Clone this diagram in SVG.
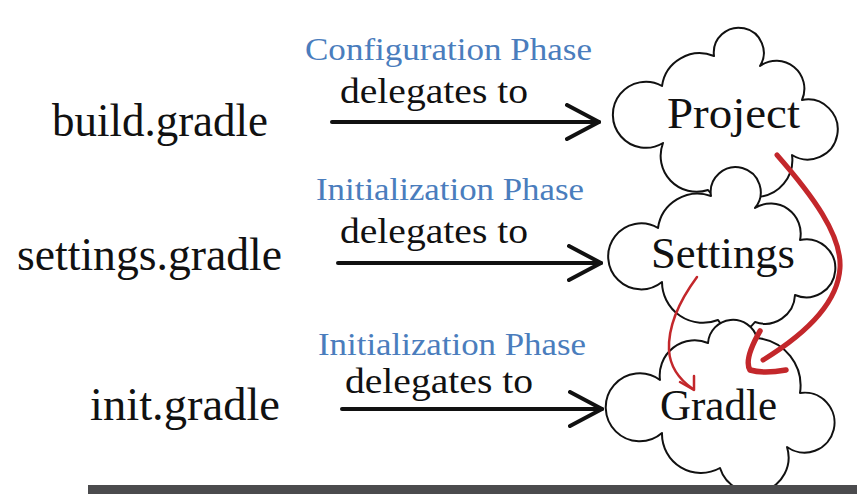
<svg xmlns="http://www.w3.org/2000/svg" width="857" height="494" viewBox="0 0 857 494">
<style>
text{font-family:"Liberation Serif","DejaVu Serif",serif;}
.file{font-size:46px;fill:#111;}
.phase{font-size:32px;fill:#4a7dbd;}
.del{font-size:35px;fill:#111;}
.name{font-size:44px;fill:#111;}
.cloud{fill:#fff;stroke:#111;stroke-width:2;stroke-linejoin:round;}
.arr{stroke:#111;stroke-width:4;fill:none;stroke-linecap:round;}
.red{stroke:#c3272b;fill:none;stroke-linecap:round;stroke-linejoin:round;}
</style>
<defs>
<marker id="chev" viewBox="0 0 36 38" refX="34" refY="19" markerWidth="36" markerHeight="38" markerUnits="userSpaceOnUse" orient="auto">
<path d="M2,2 L34,19 L2,36" fill="none" stroke="#111" stroke-width="4" stroke-linecap="round" stroke-linejoin="round"/>
</marker>
</defs>
<rect width="857" height="494" fill="#fff"/>

<g id="build-gradle"><text class="file" x="52" y="136" textLength="216" lengthAdjust="spacingAndGlyphs">build.gradle</text></g>
<g id="settings-gradle"><text class="file" x="17" y="270" textLength="265" lengthAdjust="spacingAndGlyphs">settings.gradle</text></g>
<g id="init-gradle"><text class="file" x="90" y="420" textLength="190" lengthAdjust="spacingAndGlyphs">init.gradle</text></g>

<g id="project">
<path class="cloud" d="M663,143 A33,33 0 1,1 662,86 A38,38 0 0,1 714,56 A25,25 0 1,1 760,66 A28,28 0 0,1 802,100 A30,30 0 1,1 792,155 A37,37 0 0,1 757,197 A34,34 0 0,1 708,190 A36,36 0 0,1 663,143 Z"/>
<text class="name" x="667" y="128" textLength="133" lengthAdjust="spacingAndGlyphs">Project</text>
</g>
<g id="settings">
<path class="cloud" d="M662,282 A33,33 0 1,1 658,228 A40,40 0 0,1 711,196 A25,25 0 1,1 755,208 A30,30 0 0,1 800,240 A29,29 0 1,1 795,295 A30,30 0 0,1 755,322 A22,22 0 0,1 718,320 A41,41 0 0,1 662,282 Z"/>
<text class="name" x="651" y="268" textLength="144" lengthAdjust="spacingAndGlyphs">Settings</text>
</g>
<g id="gradle">
<path class="cloud" d="M662,433 A34,34 0 1,1 660,380 A35,35 0 0,1 708,343 A25,25 0 0,1 757,338 A48,48 0 0,1 800,393 A30,30 0 1,1 787,447 A35,35 0 0,1 720,468 A39,39 0 0,1 662,433 Z"/>
<text class="name" x="660" y="420" textLength="117" lengthAdjust="spacingAndGlyphs">Gradle</text>
</g>

<g id="connectors">
<text class="phase" x="305" y="60" textLength="287" lengthAdjust="spacingAndGlyphs">Configuration Phase</text>
<text class="del" x="340" y="103" textLength="188" lengthAdjust="spacingAndGlyphs">delegates to</text>
<line class="arr" x1="332" y1="122" x2="599" y2="122" marker-end="url(#chev)"/>

<text class="phase" x="316" y="200" textLength="268" lengthAdjust="spacingAndGlyphs">Initialization Phase</text>
<text class="del" x="340" y="243" textLength="188" lengthAdjust="spacingAndGlyphs">delegates to</text>
<line class="arr" x1="338" y1="263" x2="601" y2="263" marker-end="url(#chev)"/>

<text class="phase" x="318" y="355" textLength="268" lengthAdjust="spacingAndGlyphs">Initialization Phase</text>
<text class="del" x="345" y="393" textLength="188" lengthAdjust="spacingAndGlyphs">delegates to</text>
<line class="arr" x1="342" y1="409" x2="602" y2="409" marker-end="url(#chev)"/>

<path class="red" stroke-width="5" d="M777,155 C812,195 842,235 840,268 C838,300 812,330 763,360"/>
<path class="red" stroke-width="5.5" d="M760,331 C752,345 745,362 750,370 C760,373 775,372 786,370"/>
<path class="red" stroke-width="2.5" d="M697,277 C680,300 668,325 669,350 C670,368 680,380 693,389"/>
<path class="red" stroke-width="2.5" d="M680,382 L694,390 L694,376"/>
</g>

<rect x="88" y="485" width="769" height="9" fill="#4b4b4d"/>
</svg>
